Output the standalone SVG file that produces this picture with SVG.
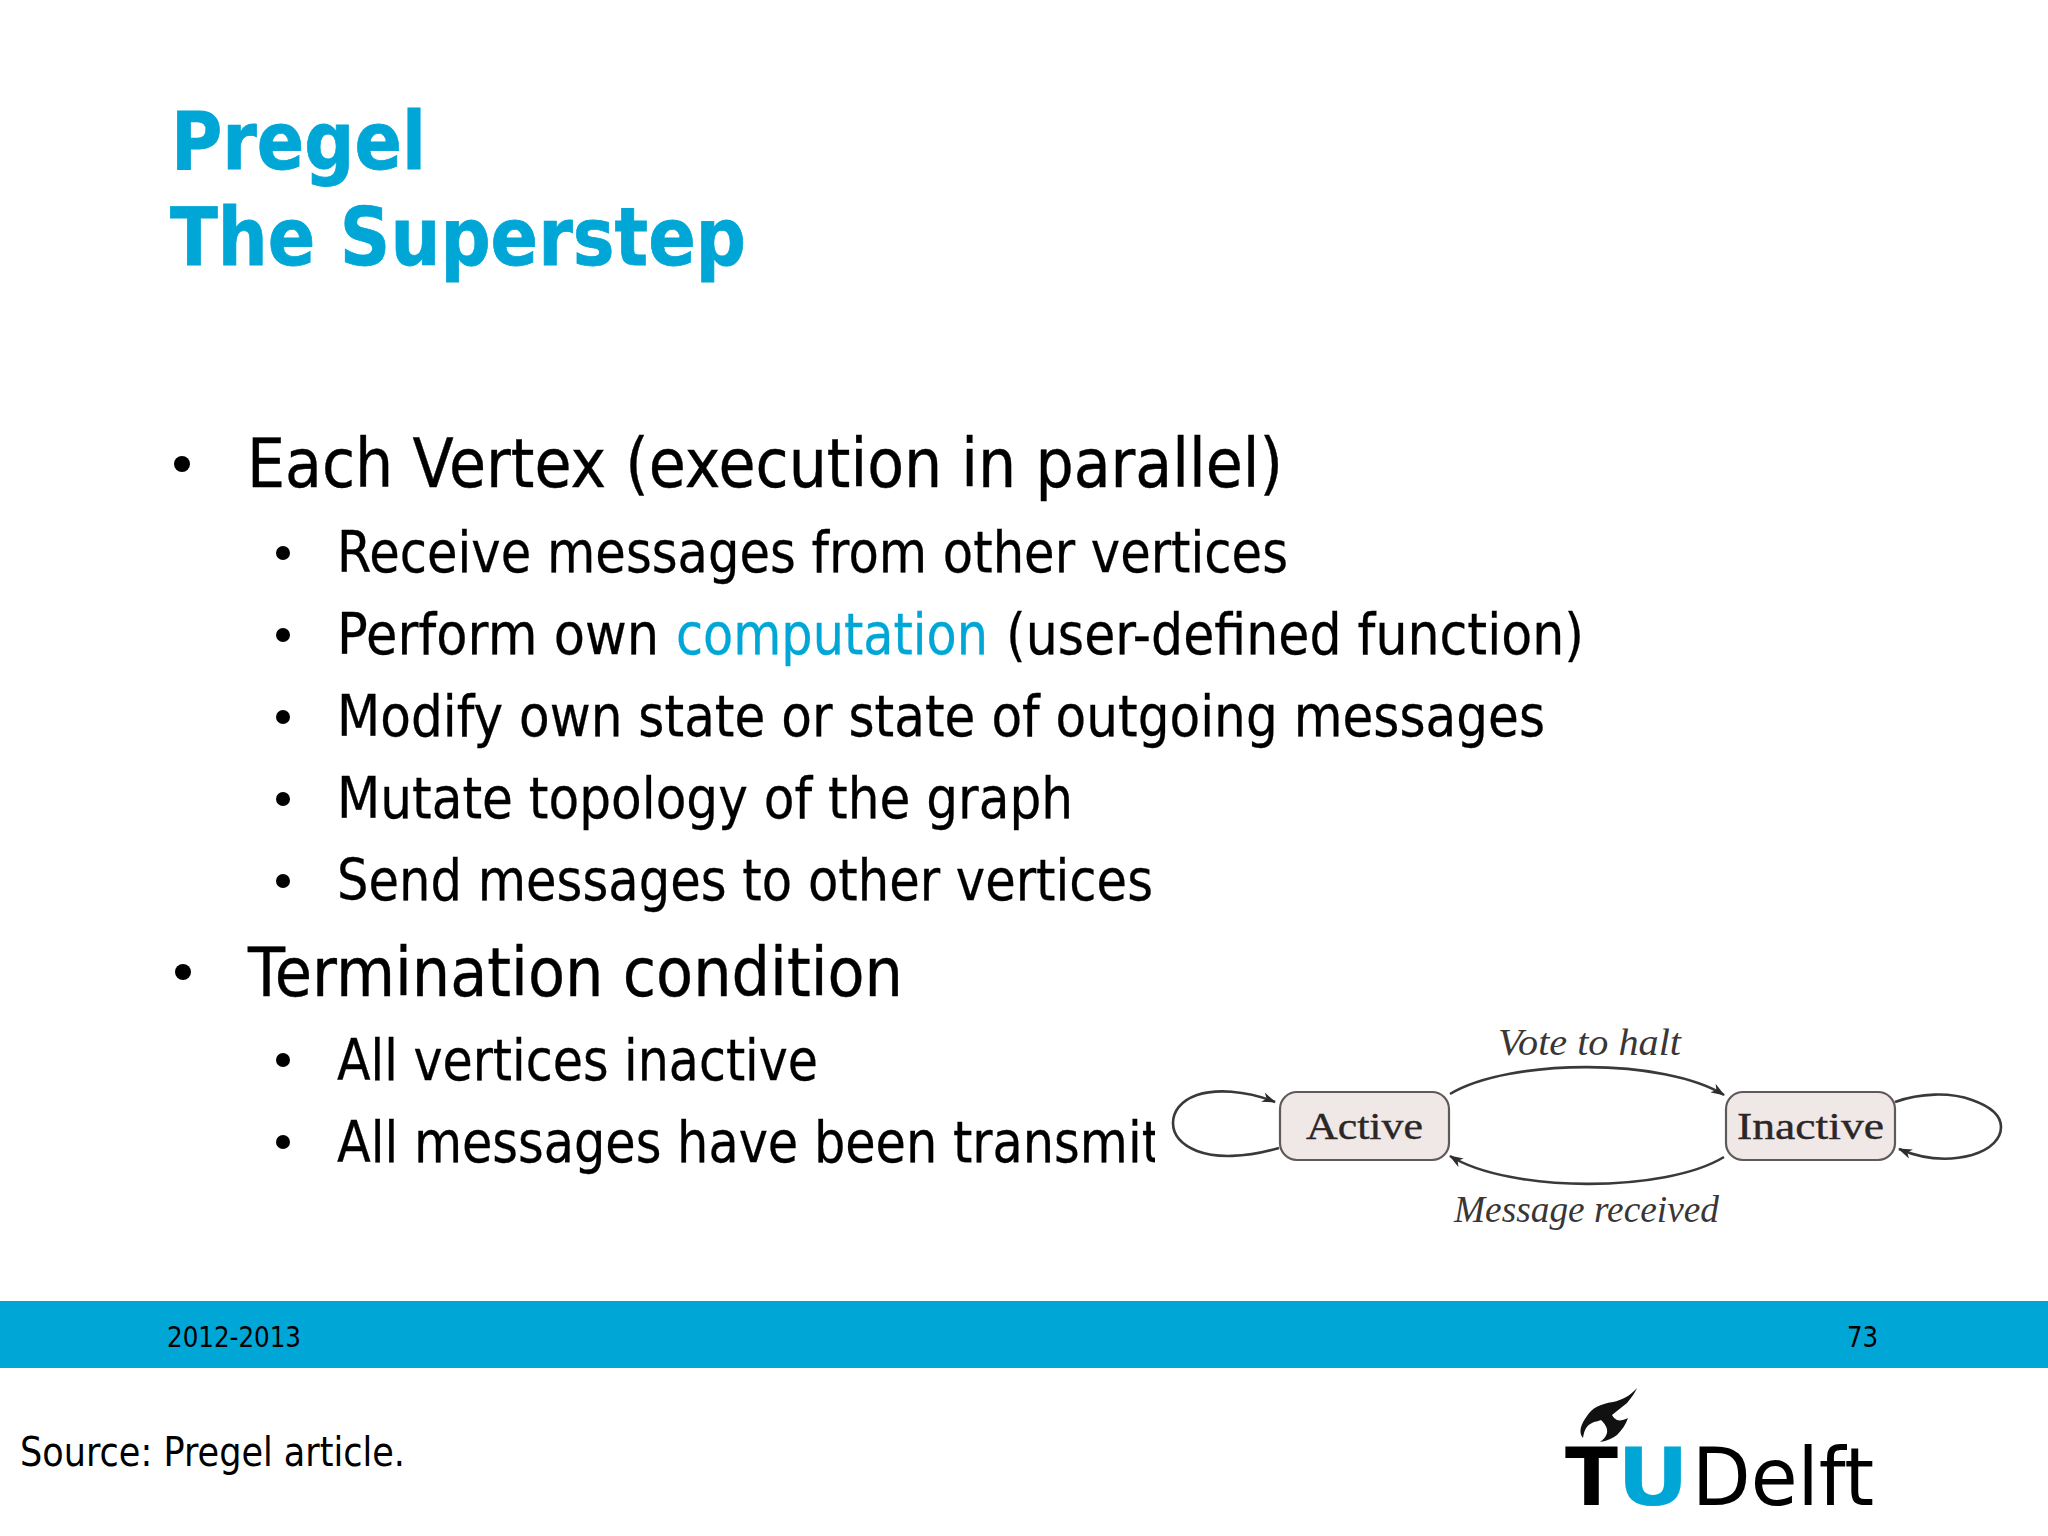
<svg xmlns="http://www.w3.org/2000/svg" width="2048" height="1536" viewBox="0 0 2048 1536">
<style>
text{font-family:"DejaVu Sans","Liberation Sans",sans-serif;fill:#000}
.title{font-size:80px;font-weight:700;fill:#00a6d6;stroke:#00a6d6;stroke-width:.8}
.l1{font-size:67px;stroke:#000;stroke-width:.4}
.l2{font-size:57px;stroke:#000;stroke-width:.3}
.dot{fill:#000}
.foot{font-size:29px}
.node{fill:#f0e8e6;stroke:#5f5a58;stroke-width:2.2}
.nt{font-family:"Liberation Serif",serif;font-size:38px;fill:#2b2726;stroke:#2b2726;stroke-width:.4}
.et{font-family:"Liberation Serif",serif;font-style:italic;font-size:37px;fill:#3a3636}
.edge{fill:none;stroke:#3a3838;stroke-width:2.6;marker-end:url(#a)}
</style>
<defs>
<marker id="a" viewBox="0 0 14 10" refX="13" refY="5" markerWidth="14" markerHeight="10" markerUnits="userSpaceOnUse" orient="auto">
<path d="M0 0L14 5L0 10L4 5Z" fill="#2e2c2c"/>
</marker>
</defs>
<rect width="2048" height="1536" fill="#fff"/>
<g id="title">
<text class="title" x="171" y="169" textLength="255" lengthAdjust="spacingAndGlyphs">Pregel</text>
<text class="title" x="170" y="265" textLength="576" lengthAdjust="spacingAndGlyphs">The Superstep</text>
</g>
<g id="body">
<circle class="dot" cx="182" cy="464" r="8"/>
<text class="l1" x="247" y="487" textLength="1036" lengthAdjust="spacingAndGlyphs">Each Vertex (execution in parallel)</text>
<circle class="dot" cx="283" cy="553" r="7"/>
<text class="l2" x="337" y="572" textLength="951" lengthAdjust="spacingAndGlyphs">Receive messages from other vertices</text>
<circle class="dot" cx="283" cy="635" r="7"/>
<text class="l2" y="654"><tspan x="337" textLength="322" lengthAdjust="spacingAndGlyphs">Perform own</tspan><tspan x="676" textLength="312" lengthAdjust="spacingAndGlyphs" style="fill:#00a6d6;stroke:#00a6d6">computation</tspan><tspan x="1006" textLength="578" lengthAdjust="spacingAndGlyphs">(user-defined function)</tspan></text>
<circle class="dot" cx="283" cy="717" r="7"/>
<text class="l2" x="337" y="736" textLength="1208" lengthAdjust="spacingAndGlyphs">Modify own state or state of outgoing messages</text>
<circle class="dot" cx="283" cy="799" r="7"/>
<text class="l2" x="337" y="818" textLength="736" lengthAdjust="spacingAndGlyphs">Mutate topology of the graph</text>
<circle class="dot" cx="283" cy="881" r="7"/>
<text class="l2" x="337" y="900" textLength="816" lengthAdjust="spacingAndGlyphs">Send messages to other vertices</text>
<circle class="dot" cx="183" cy="972" r="8"/>
<text class="l1" x="248" y="996" textLength="655" lengthAdjust="spacingAndGlyphs">Termination condition</text>
<circle class="dot" cx="283" cy="1060" r="7"/>
<text class="l2" x="337" y="1080" textLength="481" lengthAdjust="spacingAndGlyphs">All vertices inactive</text>
<circle class="dot" cx="283" cy="1142" r="7"/>
<text class="l2" x="337" y="1162" textLength="824" lengthAdjust="spacingAndGlyphs">All messages have been transmit</text>
</g>
<rect x="1155" y="1020" width="893" height="260" fill="#fff"/>
<g id="connectors">
<path class="edge" d="M1450 1094C1510 1058 1665 1058 1724 1095"/>
<path class="edge" d="M1724 1157C1665 1193 1510 1193 1450 1156"/>
<path class="edge" d="M1279 1148C1245 1158 1215 1158 1197 1151C1180 1144 1173 1134 1173 1123C1173 1112 1180 1101 1197 1095C1215 1089 1245 1090 1275 1102"/>
<path class="edge" d="M1895 1102C1920 1093 1950 1092 1972 1100C1992 1107 2001 1117 2001 1127C2001 1138 1992 1149 1972 1155C1950 1161 1925 1160 1899 1149"/>
</g>
<g id="node-active">
<rect class="node" x="1280" y="1092" width="169" height="68" rx="17"/>
<text class="nt" x="1306" y="1139" textLength="117" lengthAdjust="spacingAndGlyphs">Active</text>
</g>
<g id="node-inactive">
<rect class="node" x="1726" y="1092" width="169" height="68" rx="17"/>
<text class="nt" x="1737" y="1139" textLength="147" lengthAdjust="spacingAndGlyphs">Inactive</text>
</g>
<g id="edge-labels">
<text class="et" x="1498" y="1055" textLength="183" lengthAdjust="spacingAndGlyphs">Vote to halt</text>
<text class="et" x="1454" y="1222" textLength="265" lengthAdjust="spacingAndGlyphs">Message received</text>
</g>
<rect id="footer-band" x="0" y="1301" width="2048" height="67" fill="#00a6d6"/>
<g id="footer">
<text class="foot" x="167" y="1347" textLength="134" lengthAdjust="spacingAndGlyphs">2012-2013</text>
<text class="foot" x="1847" y="1347" textLength="31" lengthAdjust="spacingAndGlyphs">73</text>
<text x="20" y="1466" font-size="40" textLength="385" lengthAdjust="spacingAndGlyphs">Source: Pregel article.</text>
</g>
<g id="logo">
<path d="M1637 1388C1630 1396 1622 1400 1613 1402C1600 1404 1592 1408 1587 1416C1581 1424 1578 1432 1583 1438C1584 1430 1587 1425 1592 1423C1596 1421 1600 1421 1601 1420C1605 1424 1608 1428 1607 1433C1606 1437 1603 1440 1600 1442C1607 1441 1613 1438 1617 1435C1622 1430 1626 1424 1628 1418C1624 1420 1620 1421 1617 1420C1615 1419 1613 1417 1612 1415C1617 1411 1622 1407 1627 1403C1631 1398 1635 1393 1637 1388Z" fill="#111"/>
<text x="1565" y="1505" font-size="80" font-weight="700" textLength="53" lengthAdjust="spacingAndGlyphs">T</text>
<text x="1617" y="1505" font-size="80" font-weight="700" textLength="72" lengthAdjust="spacingAndGlyphs" style="fill:#00a6d6">U</text>
<text x="1692" y="1505" font-size="80" textLength="182" lengthAdjust="spacingAndGlyphs">Delft</text>
</g>
</svg>
